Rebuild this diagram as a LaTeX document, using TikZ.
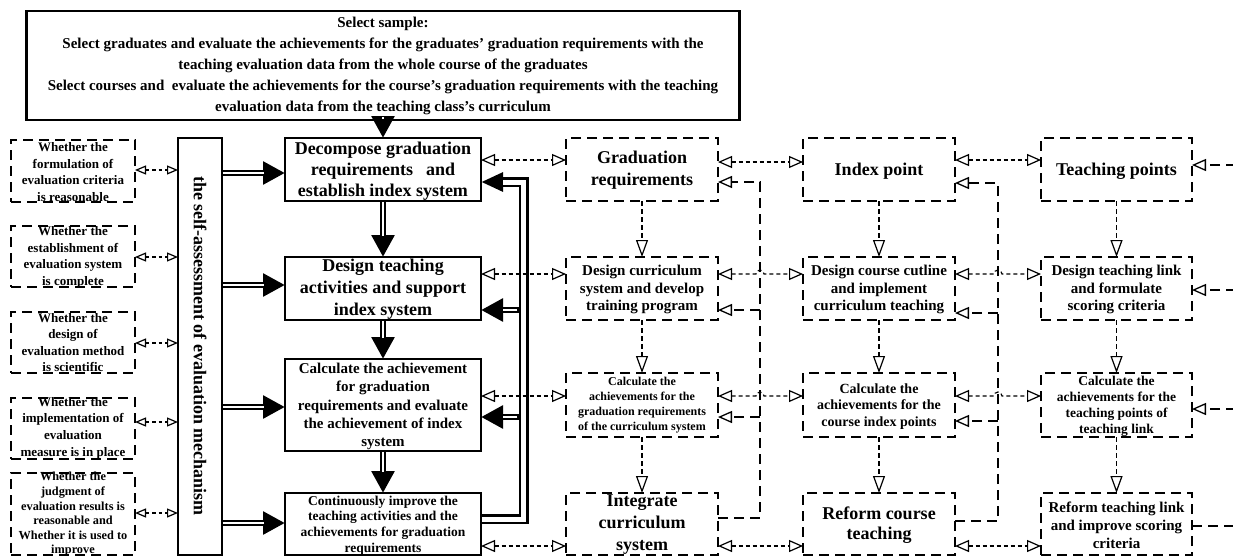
\documentclass[tikz,border=0pt]{standalone}
\usepackage{fontspec}
\setmainfont{Liberation Serif}
\usetikzlibrary{arrows.meta,calc}
\newcommand\fsz[2]{\fontsize{#1}{#2}\selectfont\bfseries}
\begin{document}
\begin{tikzpicture}[x=1pt,y=-1pt,
  every node/.style={inner sep=0pt,outer sep=0pt},
  mainbox/.style={draw,line width=2.2pt,minimum width=196pt},
  dbox/.style={draw,line width=1.3pt,dash pattern=on 10pt off 6pt},
  lbox/.style={dbox,minimum width=124pt},
  cbox/.style={dbox,minimum width=152pt},
  txt/.style={align=center},
  bia/.style={line width=1.2pt,dash pattern=on 4pt off 3pt,{Triangle[open,length=14pt,width=12pt]}-{Triangle[open,length=14pt,width=12pt]}},
  bias/.style={line width=1.2pt,dash pattern=on 3.5pt off 3pt,{Triangle[open,length=11pt,width=9pt]}-{Triangle[open,length=11pt,width=9pt]}},
  varr/.style={line width=1.2pt,dash pattern=on 5pt off 3pt,-{Triangle[open,length=17pt,width=12pt]}},
  fbl/.style={line width=1.3pt,dash pattern=on 10pt off 6pt},
  fbarr/.style={fbl,-{Triangle[open,length=14pt,width=12pt]}},
  fat/.style={line width=6pt,-{Triangle[length=22pt,width=22pt]},postaction={draw=white,line width=2.4pt,-,shorten >=21.5pt,shorten <=1.2pt}},
  loopl/.style={line width=10pt,-{Triangle[length=22pt,width=18pt]},postaction={draw=white,line width=5pt,-,shorten >=21.5pt,shorten <=1.2pt}}
]
\useasboundingbox (0,0) rectangle (1233,557);

% top box
\node[draw,line width=2.2pt,minimum width=713pt,minimum height=109pt] (top) at (383,65.5) {};
\node[txt,font=\fsz{15}{21}] (topt) at (383,66) {Select sample:\\Select graduates and evaluate the achievements for the graduates' graduation requirements with the\\teaching evaluation data from the whole course of the graduates\\Select courses and\ \ evaluate the achievements for the course's graduation requirements with the teaching\\evaluation data from the teaching class's curriculum};

% main boxes
\node[mainbox,minimum height=63pt] (dec) at (383,169.5) {};
\node[txt,font=\fsz{18}{21}] (dect) at (383,171) {Decompose graduation\\requirements\hspace{13pt}and\\establish index system};
\node[mainbox,minimum height=63pt] (des) at (383,288.5) {};
\node[txt,font=\fsz{18}{22}] (dest) at (383,289) {Design teaching\\activities and support\\index system};
\node[mainbox,minimum height=92pt] (cal) at (383,405) {};
\node[txt,font=\fsz{15}{18.3}] (calt) at (383,406.5) {Calculate the achievement\\for graduation\\requirements and evaluate\\the achievement of index\\system};
\node[mainbox,minimum height=62pt] (con) at (383,524) {};
\node[txt,font=\fsz{13.5}{15.6}] (cont) at (383,525.5) {Continuously improve the\\teaching activities and the\\achievements for graduation\\requirements};

% self assessment
\node[draw,line width=2.2pt,minimum width=44pt,minimum height=417pt] (self) at (200,346.5) {};
\node[font=\fsz{18}{21},rotate=-90] (selft) at (200,346) {the self-assessment of evaluation mechanism};

% left boxes
\node[lbox,minimum height=62pt] (L1) at (73,171) {};
\node[txt,font=\fsz{13}{16.6}] (L1t) at (73,172) {Whether the\\formulation of\\evaluation criteria\\is reasonable};
\node[lbox,minimum height=61pt] (L2) at (73,256.5) {};
\node[txt,font=\fsz{13}{16.6}] (L2t) at (73,257.5) {Whether the\\establishment of\\evaluation system\\is complete};
\node[lbox,minimum height=61pt] (L3) at (73,342.5) {};
\node[txt,font=\fsz{13}{16.6}] (L3t) at (73,342.5) {Whether the\\design of\\evaluation method\\is scientific};
\node[lbox,minimum height=61pt] (L4) at (73,428.5) {};
\node[txt,font=\fsz{13}{16.6}] (L4t) at (73,428) {Whether the\\implementation of\\evaluation\\measure is in place};
\node[lbox,minimum height=82pt] (L5) at (73,514) {};
\node[txt,font=\fsz{12.3}{14.6}] (L5t) at (73,514.5) {Whether the\\judgment of\\evaluation results is\\reasonable and\\Whether it is used to\\improve};

% column A
\node[cbox,minimum height=63pt] (A1) at (642,169.5) {};
\node[txt,font=\fsz{18}{22}] (A1t) at (642,170) {Graduation\\requirements};
\node[cbox,minimum height=63pt] (A2) at (642,288.5) {};
\node[txt,font=\fsz{15}{17.5}] (A2t) at (642,289.5) {Design curriculum\\system and develop\\training program};
\node[cbox,minimum height=64pt] (A3) at (642,405) {};
\node[txt,font=\fsz{12}{15}] (A3t) at (642,405.5) {Calculate the\\achievements for the\\graduation requirements\\of the curriculum system};
\node[cbox,minimum height=62pt] (A4) at (642,524) {};
\node[txt,font=\fsz{18}{22}] (A4t) at (642,525) {Integrate\\curriculum\\system};

% column B
\node[cbox,minimum height=63pt] (B1) at (879,169.5) {};
\node[txt,font=\fsz{18}{22}] (B1t) at (879,171) {Index point};
\node[cbox,minimum height=63pt] (B2) at (879,288.5) {};
\node[txt,font=\fsz{15}{17.5}] (B2t) at (879,289.5) {Design course cutline\\and implement\\curriculum teaching};
\node[cbox,minimum height=64pt] (B3) at (879,405) {};
\node[txt,font=\fsz{14}{16.5}] (B3t) at (879,406.5) {Calculate the\\achievements for the\\course index points};
\node[cbox,minimum height=62pt] (B4) at (879,524) {};
\node[txt,font=\fsz{18}{20}] (B4t) at (879,525) {Reform course\\teaching};

% column C
\node[dbox,minimum width=151pt,minimum height=63pt] (C1) at (1116.5,169.5) {};
\node[txt,font=\fsz{18}{22}] (C1t) at (1116.5,171) {Teaching points};
\node[dbox,minimum width=151pt,minimum height=63pt] (C2) at (1116.5,288.5) {};
\node[txt,font=\fsz{15}{17.5}] (C2t) at (1116.5,289.5) {Design teaching link\\and formulate\\scoring criteria};
\node[dbox,minimum width=151pt,minimum height=64pt] (C3) at (1116.5,405) {};
\node[txt,font=\fsz{13.5}{16}] (C3t) at (1116.5,406) {Calculate the\\achievements for the\\teaching points of\\teaching link};
\node[dbox,minimum width=151pt,minimum height=62pt] (C4) at (1116.5,524) {};
\node[txt,font=\fsz{15}{18}] (C4t) at (1116.5,525) {Reform teaching link\\and improve scoring\\criteria};

% left small bi-arrows
\draw[bias] (L1.east |- 0,170) -- (self.west |- 0,170);
\draw[bias] (L2.east |- 0,257) -- (self.west |- 0,257);
\draw[bias] (L3.east |- 0,343) -- (self.west |- 0,343);
\draw[bias] (L4.east |- 0,422) -- (self.west |- 0,422);
\draw[bias] (L5.east |- 0,513) -- (self.west |- 0,513);

% self -> main
\draw[fat] (self.east |- 0,173) -- (dec.west |- 0,173);
\draw[fat] (self.east |- 0,285) -- (des.west |- 0,285);
\draw[fat] (self.east |- 0,407) -- (cal.west |- 0,407);
\draw[fat] (self.east |- 0,523) -- (con.west |- 0,523);

% vertical main flow
\draw[fat] (top.south) -- (dec.north);
\draw[fat] (dec.south) -- (des.north);
\draw[fat] (des.south) -- (cal.north);
\draw[fat] (cal.south) -- (con.north);

% feedback loop
\coordinate (lx) at (523.5,0);
\draw[loopl] (con.east |- 0,519) -- (lx |- 0,519) -- (lx |- 0,182) -- (dec.east |- 0,182);
\draw[fat] ($(lx |- 0,310)+(-5,0)$) -- (des.east |- 0,310);
\draw[fat] ($(lx |- 0,417)+(-5,0)$) -- (cal.east |- 0,417);

% main <-> A
\draw[bia] (dec.east |- 0,160) -- (A1.west |- 0,160);
\draw[bia] (des.east |- 0,274) -- (A2.west |- 0,274);
\draw[bia] (cal.east |- 0,396) -- (A3.west |- 0,396);
\draw[bia] (con.east |- 0,546) -- (A4.west |- 0,546);

% A <-> B
\coordinate (fa) at (760,0);
\draw[bia] (A1.east |- 0,162) -- (B1.west |- 0,162);
\draw[bia] (A2.east |- 0,274) -- ($(fa |- 0,274)+(-4,0)$) arc[start angle=180,end angle=360,radius=4] -- (B2.west |- 0,274);
\draw[bia] (A3.east |- 0,396) -- ($(fa |- 0,396)+(-4,0)$) arc[start angle=180,end angle=360,radius=4] -- (B3.west |- 0,396);
\draw[bia] (A4.east |- 0,546) -- (B4.west |- 0,546);

% B <-> C
\coordinate (fb) at (998,0);
\draw[bia] (B1.east |- 0,160) -- (C1.west |- 0,160);
\draw[bia] (B2.east |- 0,274) -- ($(fb |- 0,274)+(-4,0)$) arc[start angle=180,end angle=360,radius=4] -- (C2.west |- 0,274);
\draw[bia] (B3.east |- 0,396) -- ($(fb |- 0,396)+(-4,0)$) arc[start angle=180,end angle=360,radius=4] -- (C3.west |- 0,396);
\draw[bia] (B4.east |- 0,546) -- (C4.west |- 0,546);

% vertical arrows in columns
\foreach \c in {A,B,C}{
  \draw[varr] (\c1.south) -- (\c2.north);
  \draw[varr] (\c2.south) -- (\c3.north);
  \draw[varr] (\c3.south) -- (\c4.north);
}

% feedback A
\draw[fbarr] (A4.east |- 0,518) -- (fa |- 0,518) -- (fa |- 0,182) -- (A1.east |- 0,182);
\draw[fbarr] (fa |- 0,310) -- (A2.east |- 0,310);
\draw[fbarr] (fa |- 0,417) -- (A3.east |- 0,417);
% feedback B
\draw[fbarr] (B4.east |- 0,521) -- (fb |- 0,521) -- (fb |- 0,183) -- (B1.east |- 0,183);
\draw[fbarr] (fb |- 0,313) -- (B2.east |- 0,313);
\draw[fbarr] (fb |- 0,421) -- (B3.east |- 0,421);
% feedback C (continues beyond right edge)
\coordinate (fc) at (1236,0);
\draw[fbarr] (fc |- 0,165) -- (C1.east |- 0,165);
\draw[fbarr] (fc |- 0,290) -- (C2.east |- 0,290);
\draw[fbarr] (fc |- 0,409) -- (C3.east |- 0,409);
\draw[fbl] (C4.east |- 0,526) -- (fc |- 0,526);
\end{tikzpicture}
\end{document}
